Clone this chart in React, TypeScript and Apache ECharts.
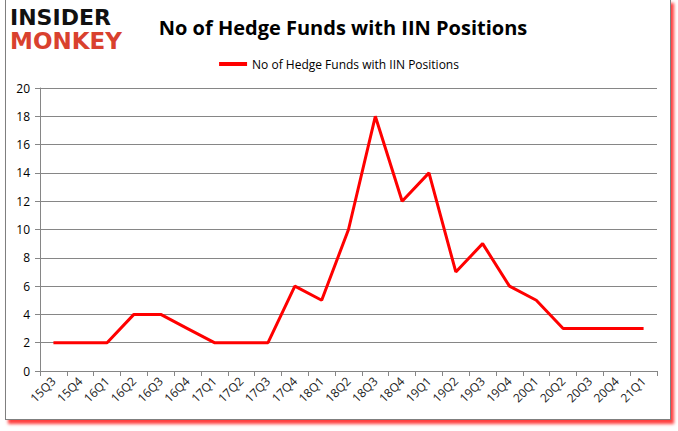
import React, { useEffect, useRef } from "react";
import * as echarts from "echarts";

const categories = ["15Q3","15Q4","16Q1","16Q2","16Q3","16Q4","17Q1","17Q2","17Q3","17Q4","18Q1","18Q2","18Q3","18Q4","19Q1","19Q2","19Q3","19Q4","20Q1","20Q2","20Q3","20Q4","21Q1"];
const fundCounts = [2,2,2,4,4,3,2,2,2,6,5,10,18,12,14,7,9,6,5,3,3,3,3];
const seriesName = "No of Hedge Funds with IIN Positions";
const titleText = "No of Hedge Funds with IIN Positions";

export default function App() {
  const ref = useRef<HTMLDivElement>(null);
  useEffect(() => {
    if (!ref.current) return;
    const chart = echarts.init(ref.current, null, { renderer: "svg" });
    chart.setOption({
      animation: false,
      title: {
        text: titleText,
        left: 338,
        top: 12,
        textAlign: "center",
        textStyle: { fontFamily: "Open Sans", fontWeight: "bold", fontSize: 20, color: "#000" },
      },
      legend: {
        top: 53,
        left: "center",
        itemWidth: 28,
        itemHeight: 4,
        icon: "rect",
        itemGap: 2,
        textStyle: { fontFamily: "Open Sans", fontSize: 12, color: "#000" },
        data: [seriesName],
      },
      graphic: [
        { type: "text", left: 10, top: 6, style: { text: "INSIDER", fontFamily: "DejaVu Sans", fontWeight: 900, fontSize: 22, fill: "#111" } },
        { type: "text", left: 10, top: 29, style: { text: "MONKEY", fontFamily: "DejaVu Sans", fontWeight: 900, fontSize: 23, fill: "#d9412e" } },
      ],
      grid: { left: 40, right: 21, top: 88, bottom: 60 },
      xAxis: {
        type: "category",
        data: categories,
        boundaryGap: true,
        axisLine: { lineStyle: { color: "#868686" } },
        axisTick: { show: true, length: 5, interval: 0, lineStyle: { color: "#868686" } },
        axisLabel: { rotate: 45, interval: 0, fontFamily: "Open Sans", fontSize: 12, color: "#222", margin: 8 },
      },
      yAxis: {
        type: "value",
        min: 0,
        max: 20,
        interval: 2,
        axisLine: { show: true, lineStyle: { color: "#868686" } },
        axisTick: { show: true, length: 5, lineStyle: { color: "#868686" } },
        splitLine: { lineStyle: { color: "#868686" } },
        axisLabel: { fontFamily: "Open Sans", fontSize: 12, color: "#000", margin: 10 },
      },
      series: [
        {
          name: seriesName,
          type: "line",
          data: fundCounts,
          symbol: "none",
          lineStyle: { color: "#ff0000", width: 3 },
          itemStyle: { color: "#ff0000" },
        },
      ],
    });
    return () => chart.dispose();
  }, []);
  return (
    <div style={{ position: "fixed", left: 0, top: 0, width: 678, height: 431, background: "#fff" }}>
      <div
        style={{
          position: "absolute",
          left: 5,
          top: -1,
          width: 666,
          height: 421,
          border: "1px solid #7f7f7f",
          boxShadow: "3px 4px 3px rgba(255,0,0,0.75)",
          boxSizing: "border-box",
          background: "#fff",
        }}
      />
      <div ref={ref} style={{ position: "absolute", left: 0, top: 0, width: 678, height: 431 }} />
    </div>
  );
}
